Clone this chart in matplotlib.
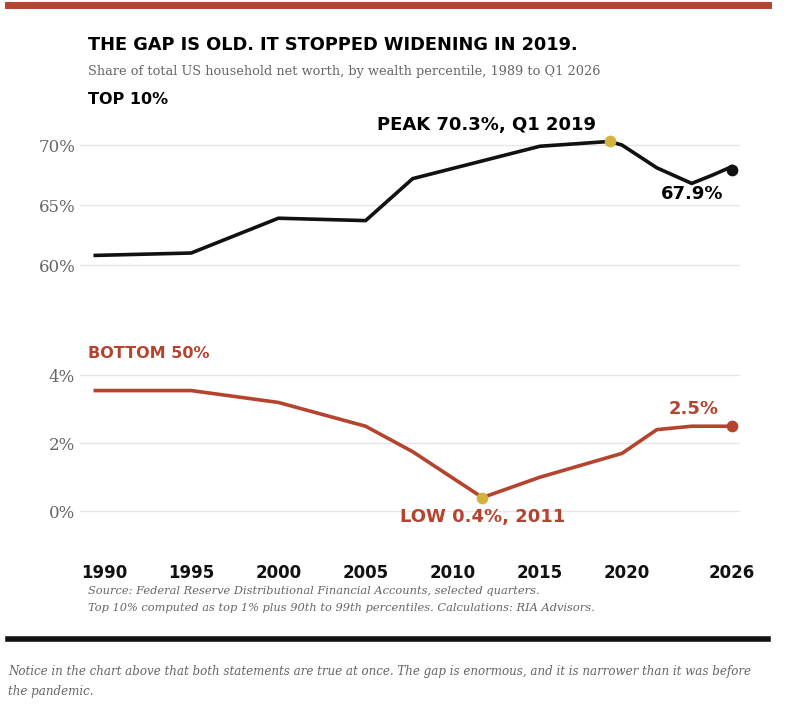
import matplotlib.pyplot as plt
from matplotlib.lines import Line2D

# data
top_years = [1989.5, 1995, 2000, 2005, 2007.7, 2015, 2019, 2019.7, 2021.7, 2023.7, 2024.9]
top_share = [60.8, 61.0, 63.9, 63.7, 67.2, 69.9, 70.3, 70.0, 68.1, 66.8, 67.5]
top_last = (2026, 67.9)
top_peak = (2019, 70.3)

bot_years = [1989.5, 1995, 2000, 2005, 2007.7, 2011.7, 2015, 2019.7, 2021.7, 2023.7, 2026]
bot_share = [3.55, 3.55, 3.2, 2.5, 1.75, 0.4, 1.0, 1.7, 2.4, 2.5, 2.5]
bot_low = (2011.7, 0.4)

xticks = [1990, 1995, 2000, 2005, 2010, 2015, 2020, 2026]

RED = "#b5442f"
GOLD = "#d4b33c"
GREY = "#666666"

W, H = 799, 710
fig = plt.figure(figsize=(W / 100, H / 100), dpi=100)
fig.patch.set_facecolor("white")

def box(x0, y0, x1, y1):
    return [x0 / W, 1 - y1 / H, (x1 - x0) / W, (y1 - y0) / H]

# full-width rules
fig.add_artist(Line2D([8 / W, 768 / W], [1 - 5 / H] * 2, color=RED, lw=5))
fig.add_artist(Line2D([8 / W, 768 / W], [1 - 639 / H] * 2, color="#111111", lw=4))

# axes: x pixel mapping 1990 -> 104, 2026 -> 732
xlim = (1990 - 24 / 17.44, 1990 + (740 - 104) / 17.44)
ax1 = fig.add_axes(box(80, 125, 740, 280))
ax2 = fig.add_axes(box(80, 360, 740, 540))

for ax in (ax1, ax2):
    ax.set_xlim(xlim)
    for s in ax.spines.values():
        s.set_visible(False)
    ax.grid(True, axis="y", color="#e6e6e6", lw=1)
    ax.set_axisbelow(True)
    ax.tick_params(length=0, labelsize=12, colors=GREY)

# top 10%
ax1.plot(top_years + [top_last[0]], top_share + [top_last[1] + 0.3], color="#111111", lw=2.6)
ax1.scatter(*top_last, s=55, color="#111111", zorder=5)
ax1.scatter(*top_peak, s=55, color=GOLD, zorder=5)
ax1.set_ylim(58.75, 71.67)
ax1.set_yticks([60, 65, 70])
ax1.set_yticklabels(["60%", "65%", "70%"], fontfamily="DejaVu Serif")
ax1.set_xticks([])
ax1.text(top_peak[0] - 0.8, top_peak[1] + 0.6, "PEAK 70.3%, Q1 2019", ha="right", va="bottom",
         fontsize=13, fontweight="bold")
ax1.text(2023.7, 65.9, "67.9%", ha="center", va="center", fontsize=13, fontweight="bold")

# bottom 50%
ax2.plot(bot_years, bot_share, color=RED, lw=2.6)
ax2.scatter(2026, bot_share[-1], s=55, color=RED, zorder=5)
ax2.scatter(*bot_low, s=55, color=GOLD, zorder=5)
ax2.set_ylim(-0.85, 4.45)
ax2.set_yticks([0, 2, 4])
ax2.set_yticklabels(["0%", "2%", "4%"], fontfamily="DejaVu Serif")
ax2.set_xticks(xticks)
ax2.set_xticklabels([str(t) for t in xticks], fontsize=12, fontweight="bold", color="#111111")
ax2.tick_params(axis="x", pad=17)
ax2.text(bot_low[0], bot_low[1] - 0.3, "LOW 0.4%, 2011", ha="center", va="top",
         fontsize=13, fontweight="bold", color=RED)
ax2.text(2023.8, 2.75, "2.5%", ha="center", va="bottom", fontsize=13, fontweight="bold", color=RED)

# headings and notes
fig.text(88 / W, 1 - 45 / H, "THE GAP IS OLD. IT STOPPED WIDENING IN 2019.", fontsize=12.8,
         fontweight="bold", va="center")
fig.text(88 / W, 1 - 71 / H, "Share of total US household net worth, by wealth percentile, 1989 to Q1 2026",
         fontsize=9.3, color=GREY, fontfamily="DejaVu Serif", va="center")
fig.text(88 / W, 1 - 100 / H, "TOP 10%", fontsize=11.5, fontweight="bold", va="center")
fig.text(88 / W, 1 - 353 / H, "BOTTOM 50%", fontsize=11.5, fontweight="bold", color=RED, va="center")
fig.text(88 / W, 1 - 591 / H, "Source: Federal Reserve Distributional Financial Accounts, selected quarters.",
         fontsize=8.2, style="italic", color=GREY, fontfamily="DejaVu Serif", va="center")
fig.text(88 / W, 1 - 608 / H, "Top 10% computed as top 1% plus 90th to 99th percentiles. Calculations: RIA Advisors.",
         fontsize=8.2, style="italic", color=GREY, fontfamily="DejaVu Serif", va="center")
fig.text(8 / W, 1 - 672 / H, "Notice in the chart above that both statements are true at once. The gap is enormous, and it is narrower than it was before",
         fontsize=8.6, style="italic", color=GREY, fontfamily="DejaVu Serif", va="center")
fig.text(8 / W, 1 - 692 / H, "the pandemic.",
         fontsize=8.6, style="italic", color=GREY, fontfamily="DejaVu Serif", va="center")

fig.savefig("out.png", dpi=100, facecolor="white")
